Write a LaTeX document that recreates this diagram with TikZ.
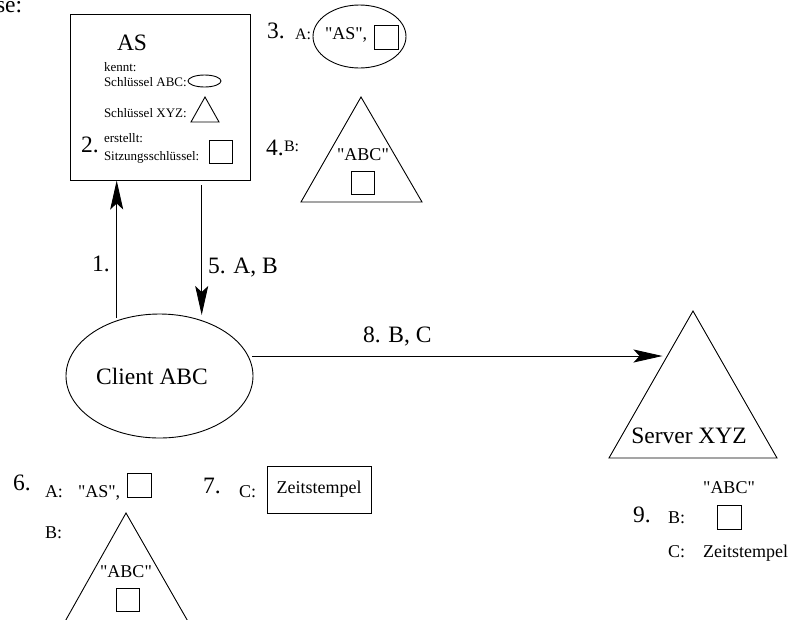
\documentclass[tikz,border=0pt]{standalone}
\usepackage{fontspec}
\setmainfont{Liberation Serif}[Ligatures=TeXOff]
\usetikzlibrary{arrows.meta,shapes.geometric}
\newcommand\fbig{\fontsize{23.5}{28}\selectfont}
\newcommand\fmed{\fontsize{18}{22}\selectfont}
\newcommand\fmid{\fontsize{16}{19}\selectfont}
\newcommand\fsml{\fontsize{13}{16}\selectfont}
\begin{document}
\begin{tikzpicture}[x=1pt,y=-1pt,line width=0.9pt,
  lbl/.style={inner sep=0pt,outer sep=0pt,anchor=base west},
  keybox/.style={draw,minimum size=23pt,inner sep=0pt,outer sep=0pt},
  arr/.style={-{Stealth[length=29pt,width=13pt,inset=6pt]}},
  oval/.style={draw,ellipse,inner sep=0pt,outer sep=0pt}]
\useasboundingbox (0,0) rectangle (789,619);

% cropped heading
\node[lbl,font=\fbig] (se) at (-4,12.5) {se:};

% AS box
\node[draw,minimum width=180pt,minimum height=166pt,inner sep=0pt,outer sep=0pt] (as) at (160,97) {};
\node[lbl,font=\fbig] (astxt) at (117,50) {AS};
\node[lbl,font=\fsml] (kennt) at (104,71) {kennt:};
\node[lbl,font=\fsml] (sabc) at (104,86) {Schlüssel ABC:};
\node[oval,minimum width=33pt,minimum height=12pt] (kabc) at (204.5,81) {};
\node[lbl,font=\fsml] (sxyz) at (104,117) {Schlüssel XYZ:};
\draw (205,97) -- (191,122) -- (219,122) -- cycle;
\node[lbl,font=\fbig] (n2) at (81,152) {2.};
\node[lbl,font=\fsml] (erst) at (104,142) {erstellt:};
\node[lbl,font=\fsml] (sitz) at (104,160) {Sitzungsschlüssel:};
\node[keybox] (k2) at (220.5,151.5) {};

% 3.
\node[lbl,font=\fbig] (n3) at (267,38) {3.};
\node[lbl,font=\fmid] (a3) at (295,39) {A:};
\node[oval,minimum width=93pt,minimum height=63pt] (e3) at (359.5,36.5) {};
\node[lbl,font=\fmed] (as3) at (325,39) {"AS",};
\node[keybox,minimum size=24pt] (k3) at (386,37) {};

% 4.
\node[lbl,font=\fbig] (n4) at (266,155) {4.};
\node[lbl,font=\fmid] (b4) at (284,151) {B:};
\draw (361,97) -- (301,202) -- (422,202) -- cycle;
\node[inner sep=0pt,anchor=base,font=\fmed] (abc4) at (363,160) {"ABC"};
\node[keybox,minimum size=23pt] (k4) at (363,183) {};

% arrows 1 and 5
\coordinate (u1) at (116.7,318);
\coordinate (u2) at (116.7,180.5);
\draw[arr] (u1) -- (u2);
\node[lbl,font=\fbig] (n1) at (92,271) {1.};
\coordinate (d1) at (201.7,185);
\coordinate (d2) at (201.7,315);
\draw[arr] (d1) -- (d2);
\node[lbl,font=\fbig] (n5) at (208,273) {5. A, B};

% Client
\node[oval,minimum width=187pt,minimum height=124pt] (client) at (159.5,376) {};
\node[inner sep=0pt,anchor=base,font=\fbig] (clienttxt) at (152,384) {Client ABC};

% arrow 8
\coordinate (h1) at (252,356);
\coordinate (h2) at (662.5,356);
\draw[arr] (h1) -- (h2);
\node[lbl,font=\fbig] (n8) at (363,342) {8. B, C};

% Server
\draw (693,311) -- (609,458) -- (777,458) -- cycle;
\node[inner sep=0pt,anchor=base,font=\fbig] (server) at (689,443) {Server XYZ};

% 9.
\node[lbl,font=\fbig] (n9) at (633,522) {9.};
\node[lbl,font=\fmed] (b9) at (668,523) {B:};
\node[inner sep=0pt,anchor=base,font=\fmed] (abc9) at (729,493) {"ABC"};
\node[keybox,minimum size=24pt] (k9) at (729,517.5) {};
\node[lbl,font=\fmed] (c9) at (668,557) {C:};
\node[lbl,font=\fmed] (z9) at (703,557) {Zeitstempel};

% 6.
\node[lbl,font=\fbig] (n6) at (13,490) {6.};
\node[lbl,font=\fmed] (a6) at (45,497) {A:};
\node[lbl,font=\fmed] (as6) at (78,497) {"AS",};
\node[keybox,minimum size=24pt] (k6) at (139.5,485) {};
\node[lbl,font=\fmed] (b6) at (45,538) {B:};
\draw (126,513) -- (54.6,640) -- (198.6,640) -- cycle;
\node[inner sep=0pt,anchor=base,font=\fmed] (abc6) at (126,577) {"ABC"};
\node[keybox] (k6b) at (127.5,599.5) {};

% 7.
\node[lbl,font=\fbig] (n7) at (203,493) {7.};
\node[lbl,font=\fmed] (c7) at (239,497) {C:};
\node[draw,minimum width=104pt,minimum height=47pt,inner sep=0pt,font=\fmed] (z7) at (319,489.5) {Zeitstempel};
\end{tikzpicture}
\end{document}
